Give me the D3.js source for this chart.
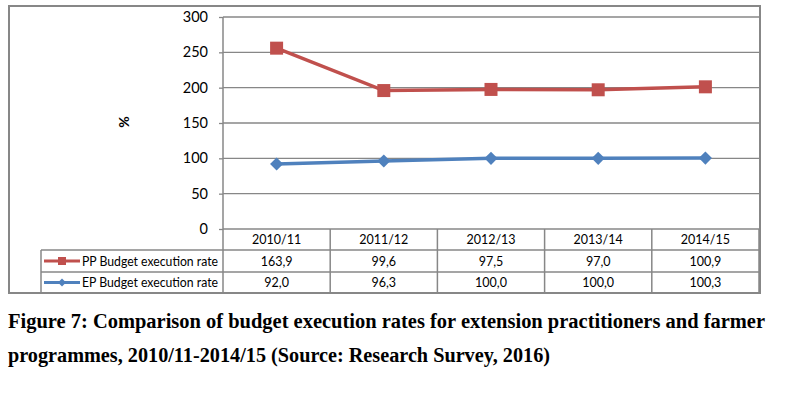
<!DOCTYPE html>
<html><head><meta charset="utf-8">
<script src="https://cdn.jsdelivr.net/npm/d3@7"></script>
<style>body{margin:0;background:#fff}svg{display:block}</style>
</head><body>
<svg id="c" width="795" height="399"></svg>
<script>
const categories = ["2010/11","2011/12","2012/13","2013/14","2014/15"];
const ppValues = [163.9, 99.6, 97.5, 97.0, 100.9];
const epValues = [92.0, 96.3, 100.0, 100.0, 100.3];
const yTicks = [0, 50, 100, 150, 200, 250, 300];
const seriesNames = ["PP Budget execution rate", "EP Budget execution rate"];
const captionLines = ["Figure 7: Comparison of budget execution rates for extension practitioners and farmer",
  "programmes, 2010/11-2014/15 (Source: Research Survey, 2016)"];

const svg = d3.select("#c");
const grid = "#878787";
const red = "#C0504D", blue = "#4F81BD";
const font = "Lato, 'Open Sans', sans-serif";

// frame
svg.append("rect").attr("x",9).attr("y",6).attr("width",751).attr("height",287)
  .attr("fill","#fff").attr("stroke",grid).attr("stroke-width",2);

const x = d3.scaleBand().domain(categories).range([223,759]);
const y = d3.scaleLinear().domain([0,300]).range([229,17]);

// gridlines
svg.append("g").selectAll("line").data(yTicks.filter(t=>t>0)).join("line")
  .attr("x1",223).attr("x2",759).attr("y1",d=>y(d)).attr("y2",d=>y(d))
  .attr("stroke",grid).attr("stroke-width",1.3);

// y axis
const ya = svg.append("g").attr("transform","translate(223,0)")
  .call(d3.axisLeft(y).tickValues(yTicks).tickSize(4).tickPadding(11));
ya.select(".domain").remove();
ya.selectAll(".tick line").attr("stroke",grid).attr("stroke-width",1.3);
ya.selectAll(".tick text").attr("font-family",font).attr("font-size",14.5).attr("fill","#000");
svg.append("line").attr("x1",223).attr("x2",223).attr("y1",17).attr("y2",293)
  .attr("stroke",grid).attr("stroke-width",1.5);

svg.append("text").attr("transform","translate(129,122) rotate(-90)")
  .attr("text-anchor","middle").attr("font-family",font).attr("font-weight","bold")
  .attr("font-size",14).text("%");

// table
const rowY = [229, 250, 272, 293];
const tbl = svg.append("g").attr("stroke",grid).attr("stroke-width",1.5);
tbl.append("line").attr("x1",223).attr("x2",759).attr("y1",rowY[0]).attr("y2",rowY[0]);
[1,2,3].forEach(i=>tbl.append("line").attr("x1",41).attr("x2",759).attr("y1",rowY[i]).attr("y2",rowY[i]));
tbl.append("line").attr("x1",41).attr("x2",41).attr("y1",rowY[1]).attr("y2",rowY[3]);
const bounds = categories.map(c=>x(c)).concat([x.range()[1]]);
tbl.selectAll(".v").data(bounds.slice(1)).join("line")
  .attr("x1",d=>d).attr("x2",d=>d).attr("y1",rowY[0]).attr("y2",rowY[3]);

const fmt = v => d3.format(".1f")(v).replace(".", ",");
const cx = c => x(c) + x.bandwidth()/2;
svg.append("g").selectAll("text").data(categories).join("text")
  .attr("x",cx).attr("y",(rowY[0]+rowY[1])/2+4.5).attr("text-anchor","middle")
  .attr("font-family",font).attr("font-size",12.5).text(d=>d);
svg.append("g").selectAll("text").data(ppValues).join("text")
  .attr("x",(d,i)=>cx(categories[i])).attr("y",(rowY[1]+rowY[2])/2+4.5).attr("text-anchor","middle")
  .attr("font-family",font).attr("font-size",12.5).text(fmt);
svg.append("g").selectAll("text").data(epValues).join("text")
  .attr("x",(d,i)=>cx(categories[i])).attr("y",(rowY[2]+rowY[3])/2+4.5).attr("text-anchor","middle")
  .attr("font-family",font).attr("font-size",12.5).text(fmt);

// legend keys in table
const keyRows = [(rowY[1]+rowY[2])/2, (rowY[2]+rowY[3])/2];
const colors = [red, blue];
keyRows.forEach((ry,i)=>{
  svg.append("line").attr("x1",44).attr("x2",80).attr("y1",ry).attr("y2",ry)
    .attr("stroke",colors[i]).attr("stroke-width",3);
  if(i===0) svg.append("rect").attr("x",58).attr("y",ry-4).attr("width",8).attr("height",8).attr("fill",red);
  else svg.append("path").attr("d",d3.symbol(d3.symbolDiamond2,40)()).attr("transform",`translate(62,${ry})`).attr("fill",blue);
  const t = svg.append("text").attr("x",82).attr("y",ry+4.5).attr("font-family",font).attr("font-size",12.5).text(seriesNames[i]);
  t.attr("textLength",136).attr("lengthAdjust","spacingAndGlyphs");
});

// lines (stacked)
const stacked = ppValues.map((v,i)=>v+epValues[i]);
const line = d3.line().x((d,i)=>cx(categories[i])).y(d=>y(d));
svg.append("path").datum(stacked).attr("d",line).attr("fill","none").attr("stroke",red).attr("stroke-width",3.5);
svg.append("path").datum(epValues).attr("d",line).attr("fill","none").attr("stroke",blue).attr("stroke-width",3.5);
svg.append("g").selectAll("rect").data(stacked).join("rect")
  .attr("x",(d,i)=>cx(categories[i])-6.5).attr("y",d=>y(d)-6.5).attr("width",13).attr("height",13).attr("fill",red);
svg.append("g").selectAll("path").data(epValues).join("path")
  .attr("d",d3.symbol(d3.symbolDiamond2,110)())
  .attr("transform",(d,i)=>`translate(${cx(categories[i])},${y(d)})`).attr("fill",blue);

// caption
const capY = [328, 362], capW = [757, 542];
captionLines.forEach((s,i)=>{
  svg.append("text").attr("x",8).attr("y",capY[i]).attr("font-family","'Liberation Serif','Times New Roman',serif")
    .attr("font-weight","bold").attr("font-size",20).attr("textLength",capW[i]).attr("lengthAdjust","spacingAndGlyphs").text(s);
});
</script>
</body></html>
